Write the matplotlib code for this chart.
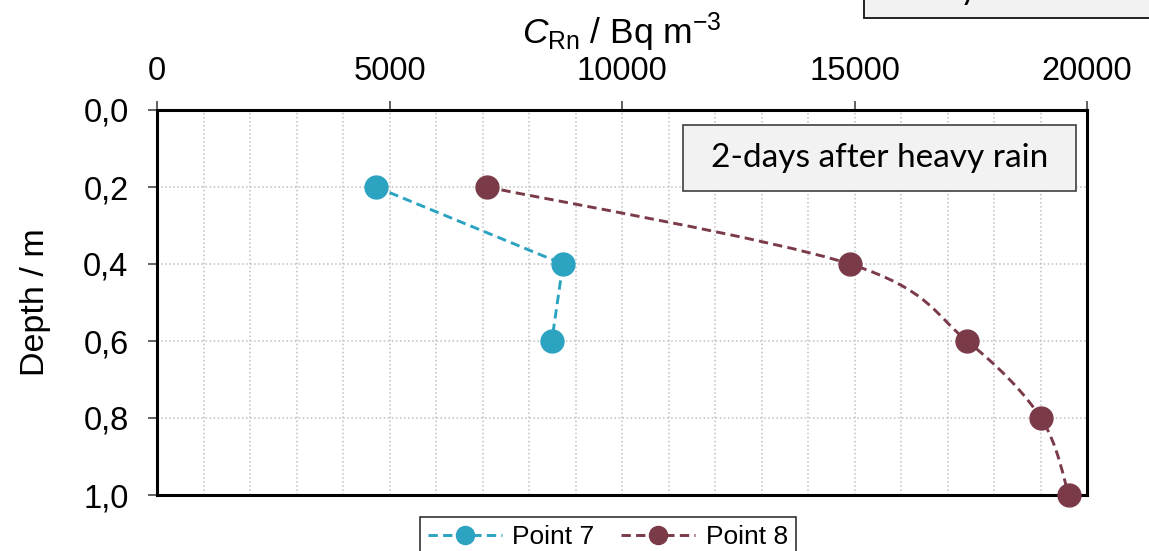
import numpy as np
import matplotlib
matplotlib.use("Agg")
import matplotlib.pyplot as plt
from matplotlib.path import Path
from matplotlib.patches import PathPatch, Rectangle
from matplotlib.lines import Line2D
from matplotlib.ticker import MultipleLocator, FuncFormatter

plt.rcParams['font.family'] = ['Liberation Sans', 'DejaVu Sans']
plt.rcParams['mathtext.fontset'] = 'custom'
plt.rcParams['mathtext.rm'] = 'Liberation Sans'
plt.rcParams['mathtext.it'] = 'Liberation Sans:italic'

# data
depth7 = [0.2, 0.4, 0.6]
conc7 = [4710, 8730, 8490]
depth8 = [0.2, 0.4, 0.6, 0.8, 1.0]
conc8 = [7100, 14900, 17420, 19010, 19610]
labels = ["Point 7", "Point 8"]
colors = ["#2ba3c1", "#7b3a48"]
box_text = "2-days after heavy rain"
top_box_text = "1-day after rain"

dash = (0, (3.2, 1.8))


def smooth_path(xs, ys):
    # Excel-like smoothed line: Catmull-Rom as cubic Bezier segments
    p = np.column_stack([xs, ys]).astype(float)
    n = len(p)
    verts = [p[0]]
    codes = [Path.MOVETO]
    for i in range(n - 1):
        p0 = p[max(i - 1, 0)]
        p1, p2 = p[i], p[i + 1]
        p3 = p[min(i + 2, n - 1)]
        verts += [p1 + (p2 - p0) / 6, p2 - (p3 - p1) / 6, p2]
        codes += [Path.CURVE4] * 3
    return Path(verts, codes)


fig = plt.figure(figsize=(11.49, 5.51), dpi=100)
ax = fig.add_axes([157 / 1149, 56 / 551, 930 / 1149, 385 / 551])

# point 7: straight segments, point 8: smoothed line
ax.plot(conc7, depth7, color=colors[0], lw=2.1, linestyle=dash, zorder=3)
ax.add_patch(PathPatch(smooth_path(conc8, depth8), fill=False, edgecolor=colors[1],
                       lw=2.1, linestyle=dash, zorder=3, clip_on=False))
for xs, ys, c in [(conc7, depth7, colors[0]), (conc8, depth8, colors[1])]:
    ax.plot(xs, ys, 'o', color=c, markersize=16.5, zorder=4, clip_on=False)

ax.set_xlim(0, 20000)
ax.set_ylim(1.0, 0.0)
ax.xaxis.tick_top()
ax.xaxis.set_label_position('top')
ax.xaxis.set_major_locator(MultipleLocator(5000))
ax.xaxis.set_minor_locator(MultipleLocator(1000))
ax.yaxis.set_major_locator(MultipleLocator(0.2))
ax.yaxis.set_major_formatter(FuncFormatter(lambda v, p: f"{v:.1f}".replace('.', ',')))

ax.grid(True, which='both', axis='x', color='#bfbfbf', linestyle=':', lw=1.1)
ax.grid(True, which='major', axis='y', color='#bfbfbf', linestyle=':', lw=1.1)
ax.set_axisbelow(True)

for s in ax.spines.values():
    s.set_linewidth(2.2)
    s.set_color('black')

ax.tick_params(axis='both', which='major', labelsize=23.5, length=6.5, width=1.3,
               direction='out', color='#555555')
ax.tick_params(axis='x', which='minor', length=0)
ax.tick_params(axis='x', pad=10)
ax.tick_params(axis='y', pad=14)

ax.set_xlabel(r"$C_{\mathrm{Rn}}$ / Bq m$^{-3}$", fontsize=25.5, labelpad=9)
ax.set_ylabel("Depth / m", fontsize=24.5, labelpad=23)

# label box inside the panel
bx0, by0 = (683 - 157) / 930, 1 - (191 - 110) / 385
ax.add_patch(Rectangle((bx0, by0), 393 / 930, 66 / 385, transform=ax.transAxes,
                       facecolor='#f2f2f2', edgecolor='#404040', lw=1.2, zorder=5))
ax.text(bx0 + 393 / 930 / 2, by0 + 66 / 385 / 2, box_text, transform=ax.transAxes,
        fontsize=24, family=['Lato', 'DejaVu Sans'], ha='center', va='center', zorder=6)

# label box of the panel above, cut off by the top edge
fig.patches.append(Rectangle((864 / 1149, (551 - 18) / 551), 0.4, 0.2,
                             transform=fig.transFigure, facecolor='#f2f2f2',
                             edgecolor='#222222', lw=1.4))
fig.text(893 / 1149, 1 + 1 / 551, top_box_text, fontsize=24,
         family=['Lato', 'DejaVu Sans'], va='baseline', ha='left')

handles = [Line2D([], [], color=c, lw=2.1, linestyle=dash, marker='o',
                  markersize=13) for c in colors]
leg = fig.legend(handles, labels, loc='upper center', ncol=2,
                 bbox_to_anchor=(0.529, 1 - 517 / 551), borderaxespad=0,
                 fontsize=19, frameon=True, fancybox=False, handlelength=2.8,
                 columnspacing=1.0, handletextpad=0.4, borderpad=0.3)
leg.get_frame().set_edgecolor('black')
leg.get_frame().set_linewidth(1.2)

fig.savefig("out.png", dpi=100)
